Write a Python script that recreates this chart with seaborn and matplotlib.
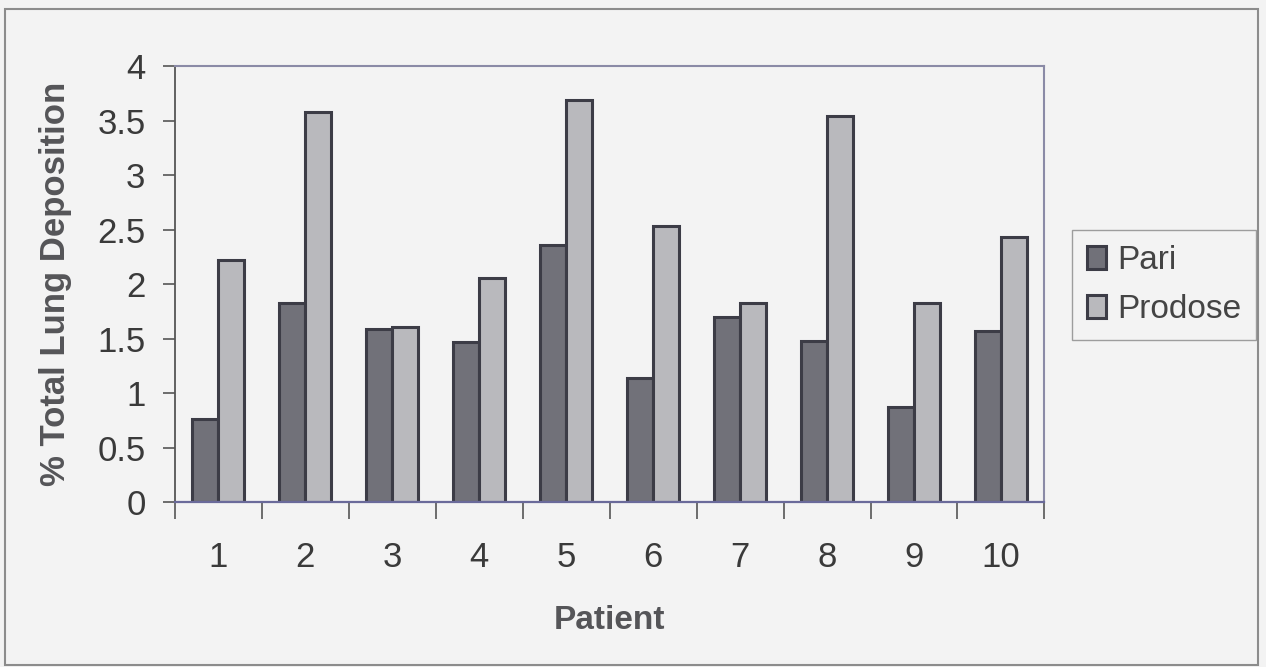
import numpy as np
import pandas as pd
import seaborn as sns
import matplotlib.pyplot as plt
from matplotlib.patches import Rectangle

# Values
patients = ['1', '2', '3', '4', '5', '6', '7', '8', '9', '10']
pari = [0.76, 1.83, 1.59, 1.47, 2.36, 1.14, 1.70, 1.48, 0.87, 1.57]
prodose = [2.22, 3.58, 1.61, 2.06, 3.69, 2.53, 1.83, 3.54, 1.83, 2.43]
yticks = [0, 0.5, 1, 1.5, 2, 2.5, 3, 3.5, 4]
ytick_labels = ['0', '0.5', '1', '1.5', '2', '2.5', '3', '3.5', '4']

df = pd.DataFrame({
    'Patient': patients * 2,
    'Deposition': pari + prodose,
    'Device': ['Pari'] * len(pari) + ['Prodose'] * len(prodose),
})

sns.set_style('white')
plt.rcParams['font.family'] = ['Liberation Sans', 'DejaVu Sans']

bg = '#f3f3f3'
fig = plt.figure(figsize=(12.66, 6.67), dpi=100, facecolor=bg)
ax = fig.add_axes([0.138, 0.247, 0.687, 0.654], facecolor=bg)

sns.barplot(data=df, x='Patient', y='Deposition', hue='Device',
            palette={'Pari': '#717179', 'Prodose': '#b9b9bd'},
            width=0.6, gap=0, edgecolor='#3c3c46', linewidth=2.2,
            saturation=1, ax=ax)

ax.set_ylim(0, 4)
ax.set_xlim(-0.5, len(patients) - 0.5)
ax.set_yticks(yticks)
ax.set_yticklabels(ytick_labels)

# ticks between categories on the x axis, none at labels
ax.set_xticks(np.arange(-0.5, len(patients), 1), minor=True)
ax.tick_params(axis='x', which='major', length=0, pad=28, labelsize=25, labelcolor='#3a3a3a')
ax.tick_params(axis='x', which='minor', length=12, width=1.2, color='#555555', direction='out', bottom=True)
ax.tick_params(axis='y', length=9, width=1.2, color='#555555', direction='out', left=True,
               labelsize=25, labelcolor='#3a3a3a', pad=12)

ax.set_xlabel('Patient', fontsize=24, fontweight='bold', color='#555558', labelpad=22)
ax.set_ylabel('% Total Lung Deposition', fontsize=25, fontweight='bold', color='#555558', labelpad=18)

for side in ['top', 'right']:
    ax.spines[side].set_color('#8a8aa6')
    ax.spines[side].set_linewidth(1.5)
ax.spines['left'].set_color('#555555')
ax.spines['left'].set_linewidth(1.3)
ax.spines['bottom'].set_color('#6a6a9a')
ax.spines['bottom'].set_linewidth(1.6)

leg = ax.legend(loc='center left', bbox_to_anchor=(1.032, 0.498), frameon=True,
                fontsize=24, handlelength=0.55, handleheight=0.7, handletextpad=0.35,
                labelspacing=0.55, borderpad=0.45, borderaxespad=0, fancybox=False,
                labelcolor='#444444')
leg.get_frame().set_edgecolor('#888888')
leg.get_frame().set_facecolor(bg)
leg.get_frame().set_linewidth(1.0)

# outer frame around the whole chart
fig.patches.append(Rectangle((0.004, 0.003), 0.99, 0.984, transform=fig.transFigure,
                             fill=False, edgecolor='#8c8c8c', linewidth=1.5))

fig.savefig('out.png', dpi=100, facecolor=bg)
